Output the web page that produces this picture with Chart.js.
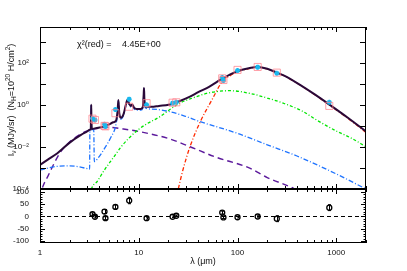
<!DOCTYPE html>
<html>
<head>
<meta charset="utf-8">
<script src="https://cdn.jsdelivr.net/npm/chart.js@4.4.1/dist/chart.umd.min.js"></script>
<style>
body { margin: 0; background: #fff; width: 407px; height: 271px; overflow: hidden; position: relative; }
canvas { position: absolute; left: 0; }
#sed { top: 0; }
#res { top: 180px; }
</style>
</head>
<body>
<canvas id="sed" width="407" height="202"></canvas>
<canvas id="res" width="407" height="91"></canvas>
<script>
// total model
const totalLam = [1.0,1.2,1.5,2.0,2.6,3.0,3.2,3.26,3.29,3.3,3.31,3.36,3.6,4.0,4.5,5.0,5.5,5.9,6.1,6.22,6.35,6.6,7.0,7.4,7.7,8.0,8.3,8.6,9.0,9.5,10.5,11.0,11.22,11.3,11.4,11.7,12.5,13.5,16,20,25,33,40,52,70,100,130,160,200,250,300,430,600,860,1300,2000];
const totalVal = [1.4e-3,2.5e-3,5.0e-3,1.6e-2,3.7e-2,5.4e-2,6.5e-2,6.9e-2,0.32,1.0,0.32,7.1e-2,7.6e-2,8.3e-2,9.5e-2,0.117,0.148,0.18,0.5,1.7,0.4,0.24,0.35,1.0,1.74,1.12,0.89,1.05,0.71,0.63,0.63,0.8,3.2,6.3,2.0,0.8,0.8,0.8,0.89,1.0,1.41,2.45,4.0,7.4,17.4,40,55,63,52,34,24,8.9,3.2,1.0,0.25,0.054];
// components
const purpleLam = [1.0,1.04,1.2,1.59,2.0,2.5,3.0,4.0,5.0,7.0,10,20,33,60,133,200,366,450];
const purpleVal = [4e-5,9e-5,4e-4,5.1e-3,0.0174,0.037,0.057,0.079,0.085,0.071,0.054,0.025,0.0102,3.3e-3,9.8e-4,3.5e-4,1.1e-4,6.3e-5];
const blueLam = [1.0,1.5,2.0,2.5,3.0,3.18,3.2,3.27,3.29,3.3,3.31,3.33,3.5,3.55,3.86,4.52,5.27,5.8,6.1,6.22,6.35,6.6,7.0,7.4,7.7,8.0,8.3,8.6,9.0,9.5,10.5,11.0,11.22,11.3,11.4,11.7,13.5,20,30,40,100,200,400,1000,2000];
const blueVal = [8.1e-4,1.2e-3,1.26e-3,1.12e-3,9.3e-4,8.7e-4,0.06,0.063,0.32,1.0,0.32,0.066,0.066,2e-3,2.9e-3,8.7e-3,0.031,0.089,0.4,1.58,0.35,0.21,0.32,0.89,1.58,1.0,0.79,0.93,0.63,0.56,0.56,0.71,3.0,6.0,1.8,0.71,0.63,0.49,0.28,0.17,0.044,0.0126,3.7e-3,5.2e-4,1.0e-4];
const greenLam = [3.2,3.3,3.8,4.5,5.5,6.64,8,9.85,12,16.4,20,26,35,48.6,65,84,133,200,290,450,632,1000,1400,2000];
const greenVal = [4e-5,9e-5,2.3e-4,8.1e-4,3e-3,0.0102,0.027,0.065,0.123,0.275,0.54,1.2,2.1,3.5,4.4,4.7,3.5,2.1,1.2,0.51,0.19,0.057,0.027,0.0102];
const redLam = [23,25,28,33,42,55,70,85,100,130,160,200,250,300,430,600,860,1300,2000];
const redVal = [1.5e-5,9e-5,8e-4,0.0102,0.158,1.7,12.6,25,37,52,62,51,33,23.4,8.7,3.1,0.95,0.234,0.049];
// photometry
const bandLam = [3.4,3.6,4.5,4.6,5.8,8.0,12,22,24,70,72,100,160,250,850];
const obsVal = [0.22,0.19,0.10,0.095,0.40,0.81,1.2,1.26,1.32,18.2,15.1,45.7,63,33.9,0.89];
const modelVal = [0.23,0.19,0.12,0.093,0.60,1.86,1.0,1.2,1.32,20,14.5,42.7,61.7,31.6,1.32];
const resVal = [10,-1,20,-7,39,65,-7,-1,3,16,-4,-3,0,-9,36];
const resErr = [5,5,8,6,8,13,4,3,3,6,4,3,3,12,12];
// ticks
const xTickValues = [1,10,100,1000];
const yTickValues = [1e-4,1e-3,1e-2,1e-1,1,10,100,1000];
const yTickLabels = ['10⁻⁴','','10⁻²','','10⁰','','10²',''];
const resTickValues = [-100,-50,0,50,100];
const resTickLabels = ['-100','-50','0','50','100'];
const chiLabel = 'χ²(red) =';
const chiValue = '4.45E+00';

Chart.defaults.font.family = '"Liberation Sans", "DejaVu Sans", sans-serif';
Chart.defaults.font.size = 8;
Chart.defaults.color = '#111';

function pts(xs, ys) {
    return xs.map((x, i) => ({x: x, y: ys[i]}));
}

// box + inward ticks, IDL style
const framePlugin = {
    id: 'frame',
    afterDraw(chart, args, opts) {
        const {ctx, chartArea: a, scales} = chart;
        const xs = scales.x, ys = scales.y;
        ctx.save();
        ctx.strokeStyle = '#000';
        ctx.lineWidth = 1;
        ctx.strokeRect(a.left + 0.5, a.top + 0.5, a.right - a.left - 1, a.bottom - a.top - 1);
        ctx.beginPath();
        for (let d = 1; d <= 1000; d *= 10) {
            for (let m = 1; m <= 9; m++) {
                const v = m * d;
                if (v > 2000) break;
                const px = Math.round(xs.getPixelForValue(v)) + 0.5;
                const len = m === 1 ? 5 : 3;
                ctx.moveTo(px, a.top); ctx.lineTo(px, a.top + len);
                ctx.moveTo(px, a.bottom); ctx.lineTo(px, a.bottom - len);
            }
        }
        opts.yMajor.forEach(v => {
            const py = Math.round(ys.getPixelForValue(v)) + 0.5;
            ctx.moveTo(a.left, py); ctx.lineTo(a.left + opts.majorLen, py);
            ctx.moveTo(a.right, py); ctx.lineTo(a.right - opts.majorLen, py);
        });
        (opts.yMinor || []).forEach(v => {
            const py = Math.round(ys.getPixelForValue(v)) + 0.5;
            ctx.moveTo(a.left, py); ctx.lineTo(a.left + 2.5, py);
            ctx.moveTo(a.right, py); ctx.lineTo(a.right - 2.5, py);
        });
        ctx.stroke();
        ctx.restore();
    }
};

// rotated axis title made of plain / sub / sup pieces
function drawRichVertical(ctx, cx, cy, parts) {
    ctx.save();
    ctx.translate(cx, cy);
    ctx.rotate(-Math.PI / 2);
    ctx.fillStyle = '#111';
    ctx.textBaseline = 'alphabetic';
    let total = 0;
    parts.forEach(p => {
        ctx.font = p[1] + 'px "Liberation Sans", "DejaVu Sans", sans-serif';
        total += ctx.measureText(p[0]).width;
    });
    let x = -total / 2;
    parts.forEach(p => {
        ctx.font = p[1] + 'px "Liberation Sans", "DejaVu Sans", sans-serif';
        ctx.fillText(p[0], x, 3 + p[2]);
        x += ctx.measureText(p[0]).width;
    });
    ctx.restore();
}

const sedText = {
    id: 'sedText',
    afterDraw(chart) {
        const ctx = chart.ctx;
        ctx.save();
        ctx.fillStyle = '#111';
        ctx.font = '9px "Liberation Sans", "DejaVu Sans", sans-serif';
        ctx.textBaseline = 'middle';
        ctx.fillText(chiLabel, 77, 45);
        ctx.fillText(chiValue, 122, 45);
        ctx.restore();
        drawRichVertical(ctx, 11, 100, [
            ['I', 9, 0], ['ν', 6.5, 2], [' (MJy/sr)  (N', 9, 0], ['H', 6.5, 2],
            ['=10', 9, 0], ['20', 6.5, -4], [' H/cm', 9, 0], ['2', 6.5, -4], [')', 9, 0]
        ]);
    }
};

const resText = {
    id: 'resText',
    afterDatasetsDraw(chart) {
        const {ctx, scales} = chart;
        ctx.save();
        ctx.strokeStyle = '#000';
        ctx.lineWidth = 1;
        ctx.beginPath();
        bandLam.forEach((l, i) => {
            const px = Math.round(scales.x.getPixelForValue(l)) + 0.5;
            const y1 = scales.y.getPixelForValue(resVal[i] - resErr[i]);
            const y2 = scales.y.getPixelForValue(resVal[i] + resErr[i]);
            ctx.moveTo(px, y1); ctx.lineTo(px, y2);
            ctx.moveTo(px - 1.5, y1); ctx.lineTo(px + 1.5, y1);
            ctx.moveTo(px - 1.5, y2); ctx.lineTo(px + 1.5, y2);
        });
        ctx.stroke();
        ctx.restore();
        drawRichVertical(ctx, 11, 216, [['Residuals (%)', 8.5, 0]]);
    }
};

const line = (data, color, width, dash, order) => ({
    data: data, borderColor: color, borderWidth: width, borderDash: dash,
    pointRadius: 0, fill: false, cubicInterpolationMode: 'monotone', order: order
});

new Chart(document.getElementById('sed'), {
    type: 'line',
    data: {
        datasets: [
            {data: pts(bandLam, obsVal), showLine: false, pointStyle: 'rect', pointRadius: 5,
             borderColor: 'rgba(255,130,140,0.75)', backgroundColor: 'rgba(0,0,0,0)', borderWidth: 1, order: 0},
            {data: pts(bandLam, modelVal), showLine: false, pointStyle: 'star', pointRadius: 2.5,
             borderColor: '#19b8ee', backgroundColor: '#19b8ee', borderWidth: 1.5, order: 1},
            line(pts(totalLam, totalVal), '#2a0838', 2, [], 2),
            line(pts(redLam, redVal), '#ff2a00', 1.3, [4, 2, 1, 2], 3),
            line(pts(greenLam, greenVal), '#00e600', 1.3, [3, 2, 1, 2], 4),
            line(pts(blueLam, blueVal), '#1f74ff', 1.3, [5, 2, 1, 2], 5),
            line(pts(purpleLam, purpleVal), '#5c1a9c', 1.4, [6, 4], 6)
        ]
    },
    options: {
        responsive: false,
        animation: false,
        layout: {padding: {top: 27, right: 41, bottom: 13, left: 0}},
        plugins: {
            legend: {display: false},
            tooltip: {enabled: false},
            frame: {yMajor: yTickValues, majorLen: 6}
        },
        scales: {
            x: {type: 'logarithmic', min: 1, max: 2000, display: false},
            y: {
                type: 'logarithmic', min: 1e-4, max: 5000,
                afterBuildTicks: s => { s.ticks = yTickValues.map(v => ({value: v})); },
                afterFit: s => { s.width = 40; },
                ticks: {
                    autoSkip: false, padding: 3,
                    callback: (v) => yTickLabels[yTickValues.findIndex(t => Math.abs(Math.log10(t) - Math.log10(v)) < 1e-6)]
                },
                grid: {display: false},
                border: {display: false}
            }
        }
    },
    plugins: [framePlugin, sedText]
});

const resMinor = [];
for (let v = -100; v <= 110; v += 10) if (v % 50 !== 0) resMinor.push(v);

new Chart(document.getElementById('res'), {
    type: 'line',
    data: {
        datasets: [
            {data: pts(bandLam, resVal), showLine: false, pointStyle: 'circle', pointRadius: 2.5,
             borderColor: '#000', backgroundColor: 'rgba(0,0,0,0)', borderWidth: 1.3, order: 0},
            {data: [{x: 1, y: 0}, {x: 2000, y: 0}], borderColor: '#000', borderWidth: 1.2,
             borderDash: [4, 3], pointRadius: 0, order: 1}
        ]
    },
    options: {
        responsive: false,
        animation: false,
        layout: {padding: {top: 9, right: 41, bottom: 0, left: 0}},
        plugins: {
            legend: {display: false},
            tooltip: {enabled: false},
            frame: {yMajor: resTickValues, yMinor: resMinor, majorLen: 5}
        },
        scales: {
            x: {
                type: 'logarithmic', min: 1, max: 2000,
                afterBuildTicks: s => { s.ticks = xTickValues.map(v => ({value: v})); },
                afterFit: s => { s.height = 28; },
                ticks: {autoSkip: false, maxRotation: 0, padding: 5, callback: v => String(v)},
                grid: {display: false, drawTicks: false},
                border: {display: false},
                title: {display: true, text: 'λ (μm)', font: {size: 9}, padding: {top: 0, bottom: 4}}
            },
            y: {
                min: -108, max: 112,
                afterBuildTicks: s => { s.ticks = resTickValues.map(v => ({value: v})); },
                afterFit: s => { s.width = 40; },
                ticks: {autoSkip: false, padding: 3, callback: (v) => resTickLabels[resTickValues.indexOf(v)]},
                grid: {display: false},
                border: {display: false}
            }
        }
    },
    plugins: [framePlugin, resText]
});
</script>
</body>
</html>
